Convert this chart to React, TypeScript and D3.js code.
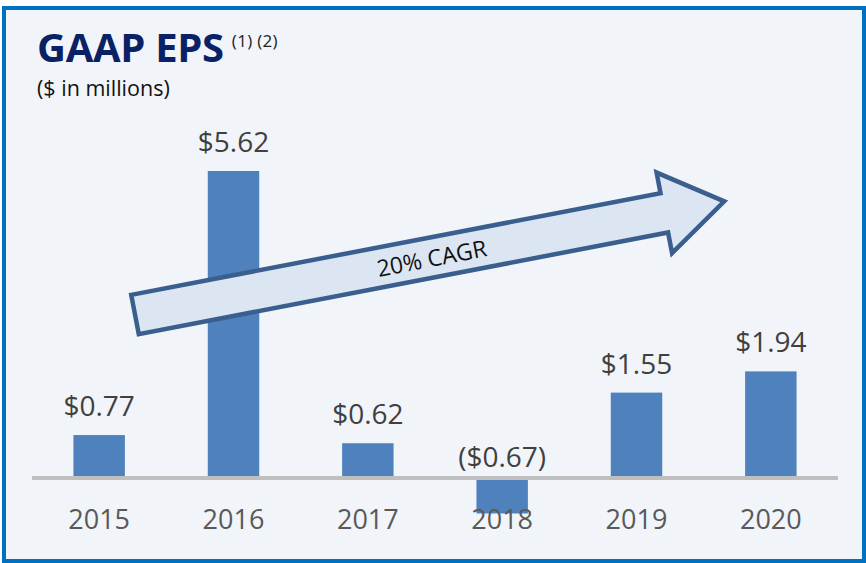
import React from "react";
import * as d3 from "d3";

const years = ["2015", "2016", "2017", "2018", "2019", "2020"];
const eps = [0.77, 5.62, 0.62, -0.67, 1.55, 1.94];
const valueLabels = ["$0.77", "$5.62", "$0.62", "($0.67)", "$1.55", "$1.94"];
const titleText = "GAAP EPS";
const titleNotes = "(1) (2)";
const subtitleText = "($ in millions)";
const cagrText = "20% CAGR";

const W = 866;
const H = 563;
const FONT = "'Open Sans', 'Noto Sans', sans-serif";

export default function App() {
  const x = d3
    .scaleBand<string>()
    .domain(years)
    .range([32, 838])
    .paddingInner(0.617)
    .paddingOuter(0.3085);
  const y = d3.scaleLinear().domain([0, 5.62]).range([477, 171]);

  // arrow annotation geometry (local frame)
  const L = 600, hl = 61, sw = 20, hw = 41;
  const arrowPts: [number, number][] = [
    [0, -sw], [L - hl, -sw], [L - hl, -hw], [L, 0], [L - hl, hw], [L - hl, sw], [0, sw],
  ];
  const arrowPath = d3.line()(arrowPts) + "Z";

  return (
    <svg
      width={W}
      height={H}
      style={{ position: "absolute", left: 0, top: 0, background: "#ffffff" }}
      fontFamily={FONT}
    >
      <rect x={4} y={8} width={860} height={553} fill="#F1F4F9" stroke="#0070C0" strokeWidth={4} />

      <text x={37} y={61.5} fontSize={40} fontWeight={700} fill="#0B2166" letterSpacing={-0.3}>
        {titleText}
        <tspan dx={8} dy={-15} fontSize={17} fontWeight={400} fill="#222" letterSpacing={0.3}>
          {titleNotes}
        </tspan>
      </text>
      <text x={37} y={96} fontSize={21.5} fill="#111">
        {subtitleText}
      </text>

      {years.map((yr, i) => {
        const v = eps[i];
        const x0 = x(yr)!;
        const top = Math.min(y(v), y(0));
        const h = Math.abs(y(v) - y(0));
        return <rect key={yr} x={x0} y={top} width={x.bandwidth()} height={h} fill="#4F81BD" />;
      })}

      <line x1={32} x2={838} y1={y(0) + 1} y2={y(0) + 1} stroke="#BFBFBF" strokeWidth={4} />

      {years.map((yr, i) => {
        const v = eps[i];
        const cx = x(yr)! + x.bandwidth() / 2;
        const by = v >= 0 ? y(v) - 19 : y(0) - 10;
        return (
          <text key={"v" + yr} x={cx} y={by} textAnchor="middle" fontSize={28} fill="#404040">
            {valueLabels[i]}
          </text>
        );
      })}

      {years.map((yr) => (
        <text
          key={"t" + yr}
          x={x(yr)! + x.bandwidth() / 2}
          y={529}
          textAnchor="middle"
          fontSize={27}
          fill="#595959"
        >
          {yr}
        </text>
      ))}

      <g transform="translate(135,314.5) rotate(-10.87)">
        <path d={arrowPath} fill="#DCE6F2" stroke="#3A5F8F" strokeWidth={4.5} strokeLinejoin="miter" />
        <text x={302} y={9} textAnchor="middle" fontSize={23} fill="#111">
          {cagrText}
        </text>
      </g>
    </svg>
  );
}
